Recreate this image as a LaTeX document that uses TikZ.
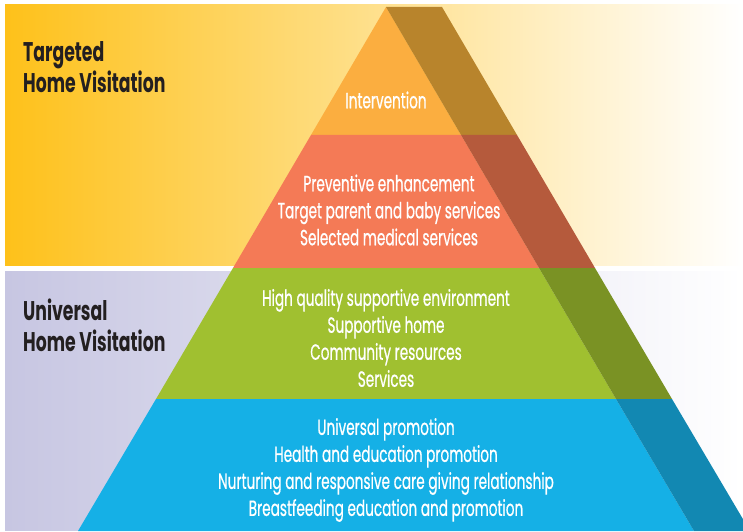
\documentclass[tikz,border=0pt]{standalone}
\usepackage{fontspec}
\setsansfont{Poppins}
\newfontfamily\tierfont[FakeStretch=0.62, FakeBold=0.6]{Poppins}
\newfontfamily\labelfont[FakeStretch=0.64]{Poppins}
\usetikzlibrary{positioning}

% palette
\definecolor{targetbg}{HTML}{FEC11A}
\definecolor{universalbg}{HTML}{C7C6E2}
\definecolor{tierint}{HTML}{FBAE40}
\definecolor{tierprev}{HTML}{F47A56}
\definecolor{tiersupp}{HTML}{A0C030}
\definecolor{tieruniv}{HTML}{15B0E6}
\definecolor{sideint}{HTML}{B8842C}
\definecolor{sideprev}{HTML}{B55A3C}
\definecolor{sidesupp}{HTML}{7A9224}
\definecolor{sideuniv}{HTML}{1288B2}
\definecolor{labelink}{HTML}{231F20}

\begin{document}
\begin{tikzpicture}[
    x=1pt, y=1pt,
    font=\sffamily,
    tiertext/.style={text=white, align=center, inner sep=0pt,
        font=\tierfont\fontsize{22}{27}\selectfont},
    sidelabel/.style={text=labelink, align=left, anchor=north west, inner sep=0pt,
        font=\labelfont\bfseries\fontsize{27}{31}\selectfont}
]
\useasboundingbox (0,0) rectangle (743,531);

% Background bands
\shade[left color=targetbg, right color=white] (5,266) rectangle (743,526);
\shade[left color=universalbg, right color=white] (5,1) rectangle (743,260);

% Pyramid tiers (front face, then darker side face)
\fill[tierint] (386,524) -- (311,396) -- (461,396) -- cycle;
\fill[sideint] (386,524) -- (442,524) -- (517,396) -- (461,396) -- cycle;

\fill[tierprev] (311,396) -- (233,263) -- (539,263) -- (461,396) -- cycle;
\fill[sideprev] (461,396) -- (517,396) -- (595,263) -- (539,263) -- cycle;

\fill[tiersupp] (233,263) -- (156,132) -- (616,132) -- (539,263) -- cycle;
\fill[sidesupp] (539,263) -- (595,263) -- (672,132) -- (616,132) -- cycle;

\fill[tieruniv] (156,132) -- (78,0) -- (694,0) -- (616,132) -- cycle;
\fill[sideuniv] (616,132) -- (672,132) -- (750,0) -- (694,0) -- cycle;

% Tier texts
\node[tiertext] (intervention) at (386,431) {Intervention};
\node[tiertext] (preventive) at (389,321) {Preventive enhancement\\Target parent and baby services\\Selected medical services};
\node[tiertext] (supportive) at (386,193) {High quality supportive environment\\Supportive home\\Community resources\\Services};
\node[tiertext] (promotion) at (386,61) {Universal promotion\\Health and education promotion\\Nurturing and responsive care giving relationship\\Breastfeeding education and promotion};

% Side labels
\node[sidelabel] (targeted) at (23,490) {Targeted\\Home Visitation};
\node[sidelabel] (universal) at (23,232) {Universal\\Home Visitation};
\end{tikzpicture}
\end{document}
